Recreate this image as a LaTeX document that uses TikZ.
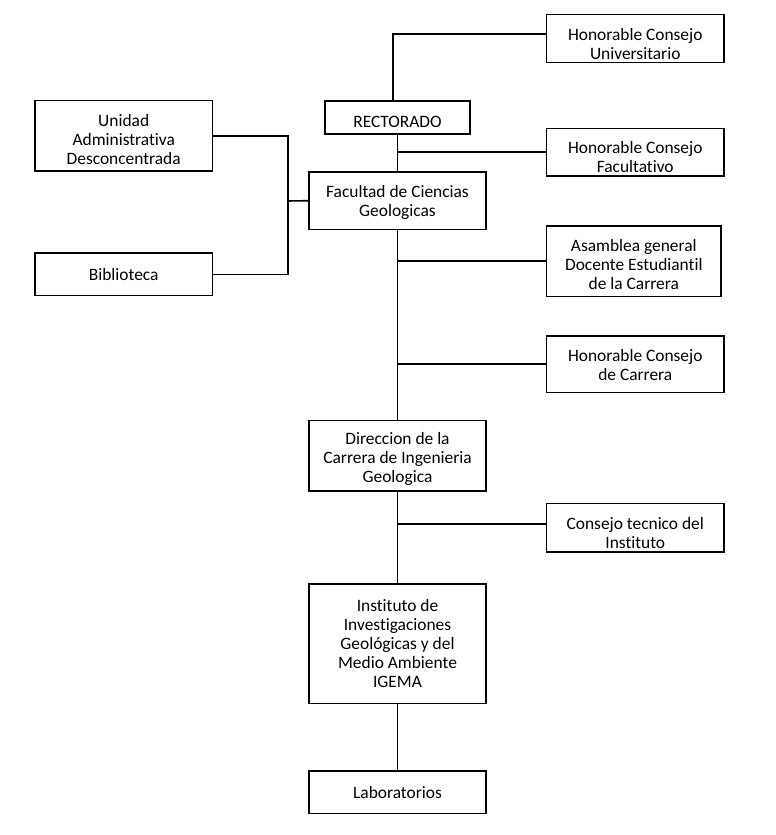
\documentclass[tikz,border=0pt]{standalone}
\usepackage{fontspec}
\setmainfont{Carlito}[Ligatures={NoCommon,NoRequired,NoContextual},Contextuals={NoAlternate}]
\newcommand\nolig{\kern0pt }
\begin{document}
\begin{tikzpicture}[x=1pt,y=-1pt,
  box/.style={draw, line width=1.6pt, rectangle, inner sep=0pt},
  txt/.style={align=center, inner sep=0pt, font=\fontsize{17.4}{19}\selectfont},
  conn/.style={line width=1.6pt}]
\useasboundingbox (0,0) rectangle (776,835);
% boxes
\node[box, minimum width=177.5pt, minimum height=48pt] (hcu) at (635.25,38.3) {};
\node[box, minimum width=145pt, minimum height=33pt] (rect) at (397.5,117.2) {};
\node[box, minimum width=177.5pt, minimum height=47.7pt] (hcf) at (635.25,152.2) {};
\node[box, minimum width=177pt, minimum height=57.3pt] (fac) at (397.5,200.7) {};
\node[box, minimum width=177.3pt, minimum height=70.3pt] (uad) at (123.7,135.8) {};
\node[box, minimum width=177.3pt, minimum height=42.7pt] (bib) at (123.7,274.3) {};
\node[box, minimum width=174.5pt, minimum height=70.6pt] (asam) at (633.8,261) {};
\node[box, minimum width=177.5pt, minimum height=56.6pt] (hcc) at (635.25,364) {};
\node[box, minimum width=177pt, minimum height=70.3pt] (dir) at (397.5,455.8) {};
\node[box, minimum width=177.5pt, minimum height=48.3pt] (ct) at (635.25,527.8) {};
\node[box, minimum width=177pt, minimum height=119.6pt] (inst) at (397.5,643.5) {};
\node[box, minimum width=177pt, minimum height=42.3pt] (lab) at (397.5,792.2) {};
% texts
\node[txt] (hcu-t) at ([yshift=-6pt]hcu.center) {Honorable Consejo\\Universitario};
\node[txt] (rect-t) at ([yshift=-5pt]rect.center) {RECTORADO};
\node[txt] (hcf-t) at ([yshift=-5pt]hcf.center) {Honorable Consejo\\Facultat\nolig ivo};
\node[txt] (fac-t) at ([yshift=-1.5pt]fac.center) {Facultad de Ciencias\\Geologicas};
\node[txt] (uad-t) at ([yshift=-4pt]uad.center) {Unidad\\Administrat\nolig iva\\Desconcentrada};
\node[txt] (bib-t) at (bib.center) {Biblioteca};
\node[txt] (asam-t) at ([yshift=-3.5pt]asam.center) {Asamblea general\\Docente Estudiant\nolig il\\de la Carrera};
\node[txt] (hcc-t) at ([yshift=-1.5pt]hcc.center) {Honorable Consejo\\de Carrera};
\node[txt] (dir-t) at ([yshift=-3.5pt]dir.center) {Direccion de la\\Carrera de Ingenieria\\Geologica};
\node[txt] (ct-t) at ([yshift=-5pt]ct.center) {Consejo tecnico del\\Inst\nolig ituto};
\node[txt] (inst-t) at (inst.center) {Inst\nolig ituto de\\Investigaciones\\Geológicas y del\\Medio Ambiente\\IGEMA};
\node[txt] (lab-t) at (lab.center) {Laboratorios};
\coordinate (lj) at (287.7,201);
% connectors
\draw[conn] ([yshift=4.6pt]hcu.west) -| ([xshift=-4.5pt]rect.north);
\draw[conn] (rect.south) -- (fac.north);
\draw[conn] (rect.south |- hcf.west) -- (hcf.west);
\draw[conn] (uad.east) -- (uad.east -| lj) -- (bib.east -| lj) -- (bib.east);
\draw[conn] (lj) -- (fac.west);
\draw[conn] (fac.south) -- (dir.north);
\draw[conn] (fac.south |- asam.west) -- (asam.west);
\draw[conn] (fac.south |- hcc.west) -- (hcc.west);
\draw[conn] (dir.south) -- (inst.north);
\draw[conn] ([yshift=4pt]ct.west -| dir.south) -- ([yshift=4pt]ct.west);
\draw[conn] (inst.south) -- (lab.north);
\end{tikzpicture}
\end{document}
